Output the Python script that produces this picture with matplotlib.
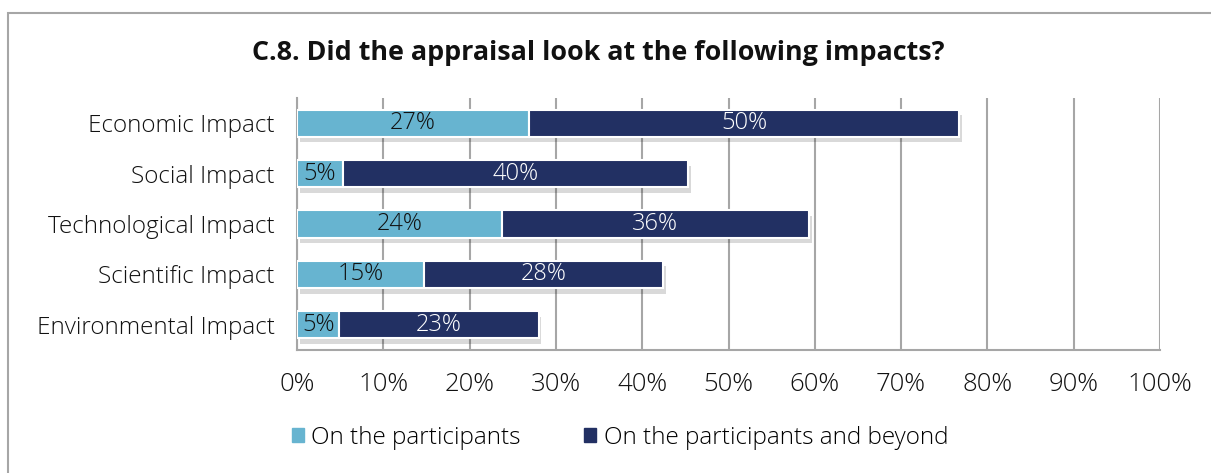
import matplotlib
matplotlib.use("Agg")
import matplotlib.pyplot as plt
import matplotlib.patheffects as pe
from matplotlib.patches import Patch, Rectangle

categories = ["Economic Impact", "Social Impact", "Technological Impact",
              "Scientific Impact", "Environmental Impact"]
participants = [26.9, 5.3, 23.7, 14.7, 4.9]
beyond = [49.8, 40.0, 35.6, 27.7, 23.1]
series_names = ["On the participants", "On the participants and beyond"]
xticks = [0, 10, 20, 30, 40, 50, 60, 70, 80, 90, 100]
title = "C.8. Did the appraisal look at the following impacts?"

light = "#67B4D0"
dark = "#223063"
grid_c = "#A6A6A6"
font = "Open Sans"

fig = plt.figure(figsize=(12.11, 4.73), dpi=100)
fig.patches.append(Rectangle((8/1211, -0.1), 1.2, 1 - 13/473 + 0.1,
                             transform=fig.transFigure, fill=False,
                             edgecolor="#A6A6A6", linewidth=1.5))
ax = fig.add_axes([297/1211, 1 - 350/473, (1160-297)/1211, (350-98)/473])

y = list(range(len(categories)))
shadow = [pe.SimplePatchShadow(offset=(2, -4), shadow_rgbFace="#000000", alpha=0.15), pe.Normal()]
b1 = ax.barh(y, participants, height=0.54, color=light, edgecolor="white",
             linewidth=1.5, zorder=3)
b2 = ax.barh(y, beyond, left=participants, height=0.54, color=dark,
             edgecolor="white", linewidth=1.5, zorder=3)
for b in list(b1) + list(b2):
    b.set_path_effects(shadow)

for i in y:
    ax.text(participants[i] / 2, i, f"{round(participants[i])}%", ha="center",
            va="center", fontsize=17, color="#111111", family=font,
            fontweight="light", zorder=5)
    ax.text(participants[i] + beyond[i] / 2, i, f"{round(beyond[i])}%",
            ha="center", va="center", fontsize=17, color="white",
            family=font, fontweight="light", zorder=5)

ax.set_xlim(0, 100)
ax.set_ylim(len(categories) - 0.5, -0.5)
ax.set_xticks(xticks)
ax.set_xticklabels([f"{t}%" for t in xticks], family=font, fontsize=18.5,
                   color="#111111", fontweight="light")
ax.set_yticks(y)
ax.set_yticklabels(categories, family=font, fontsize=17.5, color="#111111",
                   fontweight="light")
ax.tick_params(axis="both", length=0)
ax.tick_params(axis="x", pad=16)
ax.tick_params(axis="y", pad=16)
ax.xaxis.grid(True, color=grid_c, linewidth=1.5, zorder=0)
ax.set_axisbelow(True)
for s in ["top", "right"]:
    ax.spines[s].set_visible(False)
for s in ["left", "bottom"]:
    ax.spines[s].set_color(grid_c)
    ax.spines[s].set_linewidth(1.5)

fig.text(598/1211, 1 - 53/473, title, ha="center", va="center",
         fontsize=19.4, fontweight="bold", family=font, color="#111111")

handles = [Patch(color=light), Patch(color=dark)]
fig.legend(handles, series_names, loc="center", bbox_to_anchor=(620/1211, 1 - 438/473),
           ncol=2, frameon=False, prop={"family": font, "size": 17.5, "weight": "light"},
           handlelength=0.5, handleheight=0.5, handletextpad=0.3, columnspacing=2.6)

fig.savefig("out.png", dpi=100)
